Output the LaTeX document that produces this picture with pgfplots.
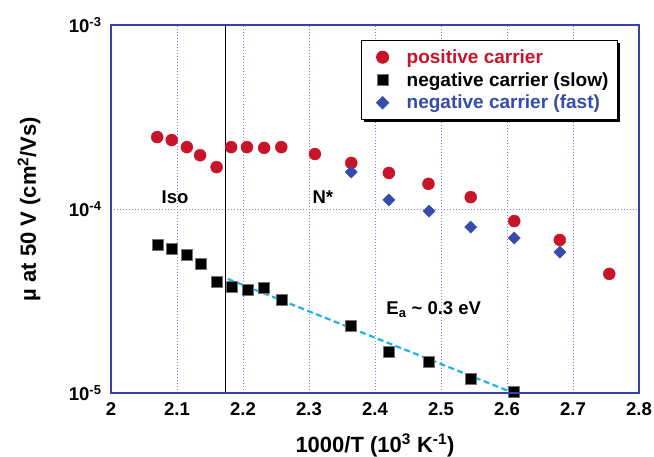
\documentclass[border=0pt]{standalone}
\usepackage{pgfplots}
\pgfplotsset{compat=1.18}
\usepackage{fontspec}
\setmainfont{Liberation Sans}
\usetikzlibrary{calc,shadows}
\definecolor{axisblue}{RGB}{55,65,175}
\definecolor{gridblue}{RGB}{130,130,230}
\definecolor{pred}{RGB}{200,20,40}
\definecolor{pblue}{RGB}{55,75,170}
\definecolor{dcyan}{RGB}{30,180,230}
\begin{document}
\begin{tikzpicture}
\begin{axis}[
  scale only axis, width=528pt, height=368pt,
  xmin=2, xmax=2.8, ymin=1e-5, ymax=1e-3, ymode=log,
  xtick={2,2.1,2.2,2.3,2.4,2.5,2.6,2.7,2.8},
  xticklabels={2,2.1,2.2,2.3,2.4,2.5,2.6,2.7,2.8},
  ytick={1e-5,1e-4,1e-3},
  yticklabels={10\textsuperscript{-5},10\textsuperscript{-4},10\textsuperscript{-3}},
  yminorticks=false,
  major tick length=0pt,
  grid=major,
  major grid style={color=gridblue, line width=0.8pt, dash pattern=on 1pt off 2pt},
  axis line style={draw=none},
  tick label style={font=\fontsize{18.5}{20}\selectfont\bfseries},
  xticklabel style={yshift=-6pt},
  yticklabel style={xshift=-6pt},
  xlabel={1000/T (10\textsuperscript{3} K\textsuperscript{-1})},
  label style={font=\fontsize{22}{24}\selectfont\bfseries},
  xlabel style={at={(axis description cs:0.5,0)}, anchor=base, yshift=-59pt},
  legend style={at={(0.96,0.959)}, anchor=north east, draw=black, line width=1pt,
    fill=white, drop shadow={shadow xshift=2.5pt, shadow yshift=-2.5pt, fill=black, opacity=1},
    font=\fontsize{19}{21}\selectfont\bfseries, row sep=3.5pt, inner xsep=15pt, inner ysep=7pt},
  legend cell align=left,
]
\addplot[forget plot, black, line width=0.8pt] coordinates {(2.174,1e-5) (2.174,1e-3)};
\addplot[only marks, mark=*, mark size=6pt, mark options={draw=pred, fill=pred}] coordinates {
(2.070,2.46e-4) (2.092,2.37e-4) (2.115,2.17e-4) (2.135,1.96e-4) (2.160,1.69e-4)
(2.182,2.17e-4) (2.206,2.17e-4) (2.232,2.15e-4) (2.258,2.17e-4) (2.309,1.99e-4)
(2.364,1.78e-4) (2.421,1.57e-4) (2.481,1.37e-4) (2.545,1.16e-4) (2.611,8.6e-5)
(2.680,6.79e-5) (2.755,4.44e-5)};
\addlegendentry{\hspace{16pt}\textcolor{pred}{positive carrier}}
\addplot[only marks, mark=square*, mark size=5.5pt, mark options={draw=black!55, fill=black, line width=1pt}] coordinates {
(2.071,6.37e-5) (2.092,6.07e-5) (2.115,5.62e-5) (2.136,5.02e-5) (2.161,4.01e-5)
(2.183,3.76e-5) (2.208,3.63e-5) (2.232,3.72e-5) (2.259,3.2e-5) (2.364,2.31e-5)
(2.421,1.67e-5) (2.482,1.47e-5) (2.545,1.19e-5) (2.611,1.01e-5)};
\addlegendentry{\hspace{16pt}negative carrier (slow)\kern-8pt\relax}
\addplot[only marks, mark=square*, mark size=4.3pt, mark options={draw=pblue, fill=pblue, rotate=45}] coordinates {
(2.364,1.59e-4) (2.421,1.12e-4) (2.482,9.75e-5) (2.545,7.98e-5) (2.611,6.95e-5) (2.680,5.83e-5)};
\addlegendentry{\hspace{16pt}\textcolor{pblue}{negative carrier (fast)}}
\addplot[forget plot, dcyan, line width=2.2pt, dash pattern=on 6pt off 3.5pt] coordinates {(2.177,4.17e-5) (2.61,1.0e-5)};
\node[font=\fontsize{18.5}{20}\selectfont\bfseries] at (axis cs:2.097,1.16e-4) {Iso};
\node[font=\fontsize{18.5}{20}\selectfont\bfseries] at (axis cs:2.321,1.16e-4) {N*};
\node[font=\fontsize{18.5}{20}\selectfont\bfseries, anchor=west] at (axis cs:2.412,2.83e-5) {E\textsubscript{a} \textasciitilde{} 0.3 eV};
\end{axis}
\draw[axisblue, line width=1.8pt] (current axis.south west) rectangle (current axis.north east);
\node[rotate=90, font=\fontsize{22}{24}\selectfont\bfseries] at ($(current axis.west)+(-82pt,0)$) {µ at 50 V (cm\textsuperscript{2}/Vs)};
\pgfresetboundingbox
\path ($(current axis.south west)+(-111pt,-63pt)$) rectangle ($(current axis.north east)+(15pt,25pt)$);
\end{tikzpicture}
\end{document}
